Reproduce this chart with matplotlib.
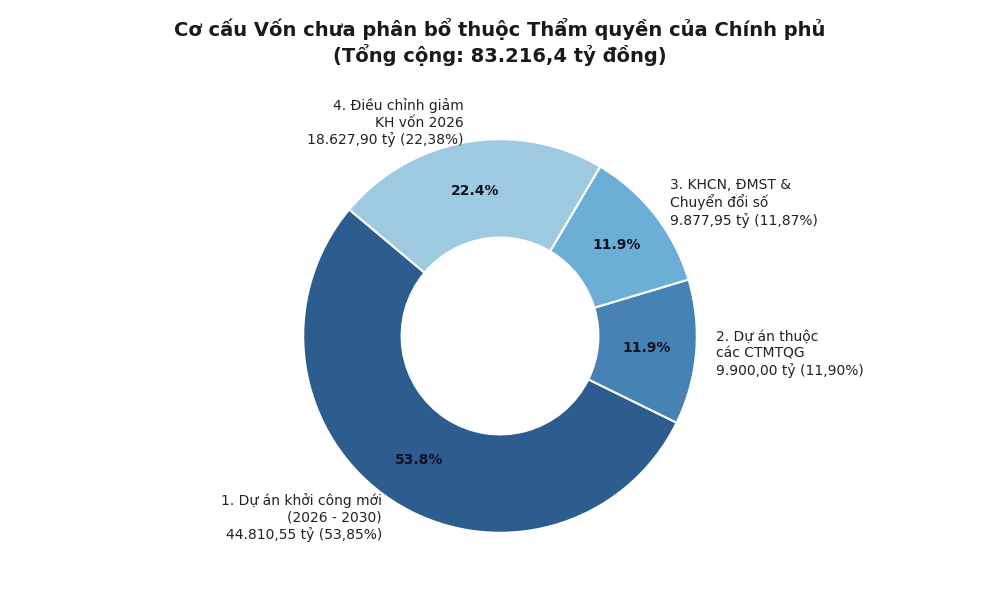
import matplotlib
matplotlib.use("Agg")
import matplotlib.pyplot as plt

# Data
labels = [
    "1. Dự án khởi công mới\n(2026 - 2030)\n44.810,55 tỷ (53,85%)",
    "2. Dự án thuộc\ncác CTMTQG\n9.900,00 tỷ (11,90%)",
    "3. KHCN, ĐMST &\nChuyển đổi số\n9.877,95 tỷ (11,87%)",
    "4. Điều chỉnh giảm\nKH vốn 2026\n18.627,90 tỷ (22,38%)",
]
values = [44810.55, 9900.00, 9877.95, 18627.90]
colors = ["#2c5d8e", "#4682b4", "#6baed6", "#9ecae1"]

title = "Cơ cấu Vốn chưa phân bổ thuộc Thẩm quyền của Chính phủ\n(Tổng cộng: 83.216,4 tỷ đồng)"

fig = plt.figure(figsize=(10, 6), dpi=100)
ax = fig.add_axes([0, 0.03, 1, 0.82])

wedges, texts, autotexts = ax.pie(
    values,
    labels=labels,
    colors=colors,
    startangle=140,
    autopct="%1.1f%%",
    pctdistance=0.75,
    labeldistance=1.1,
    wedgeprops=dict(width=0.5, edgecolor="white", linewidth=1.5),
    textprops=dict(fontsize=10, color="#222222"),
)
for t in autotexts:
    t.set_fontweight("bold")
    t.set_color("#111122")
    t.set_fontsize(10)

ax.set_aspect("equal")
fig.suptitle(title, fontsize=14, fontweight="bold", y=0.97, color="#1a1a1a")

fig.savefig("out.png", dpi=100)
